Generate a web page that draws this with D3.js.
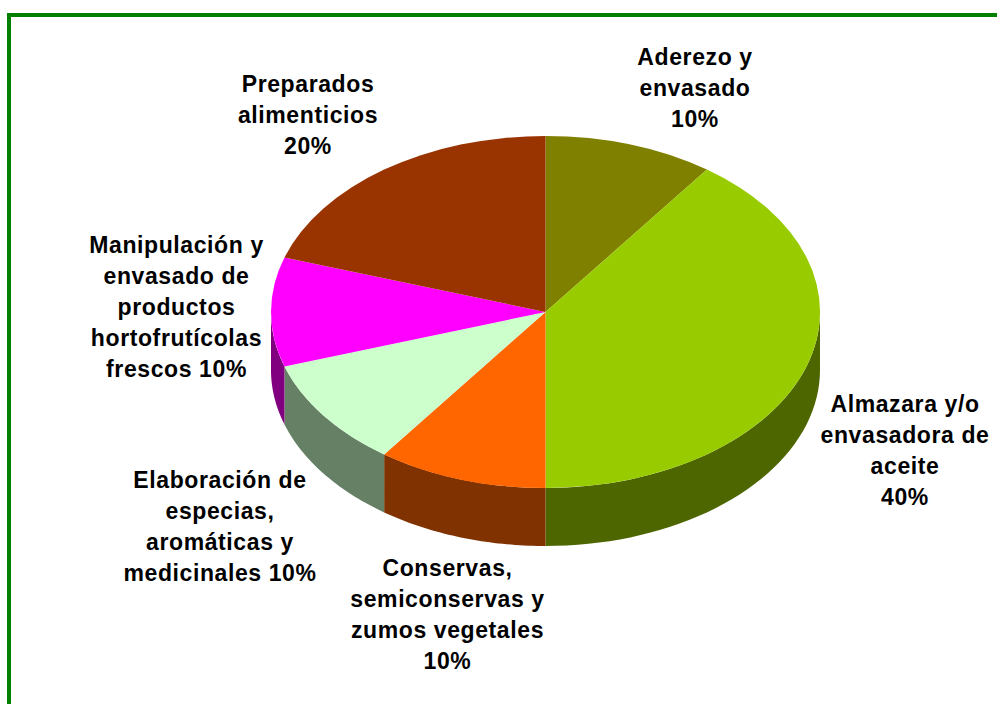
<!DOCTYPE html>
<html>
<head>
<meta charset="utf-8">
<script src="https://cdn.jsdelivr.net/npm/d3@7/dist/d3.min.js"></script>
<style>
html, body { margin: 0; padding: 0; background: #fff; overflow: hidden; }
svg { display: block; }
text { font-family: "Liberation Sans", Arial, sans-serif; font-weight: bold; font-size: 23px; letter-spacing: 0.6px; fill: #000; }
</style>
</head>
<body>
<div class="chart"></div>
<script>
var svgWidth = 997;
var svgHeight = 704;

// chart values, clockwise from 12 o'clock
var categories = ["Aderezo", "Almazara", "Conservas", "Elaboracion", "Manipulacion", "Preparados"];
var shares = [10, 40, 10, 10, 10, 20];
var topColors = ["#808000", "#99cc00", "#ff6600", "#ccffcc", "#ff00ff", "#993300"];
var sideColors = ["#4d4d00", "#4d6600", "#803300", "#668066", "#800080", "#4d1a00"];

var labelLines = [
    ["Aderezo y", "envasado", "10%"],
    ["Almazara y/o", "envasadora de", "aceite", "40%"],
    ["Conservas,", "semiconservas y", "zumos vegetales", "10%"],
    ["Elaboración de", "especias,", "aromáticas y", "medicinales 10%"],
    ["Manipulación y", "envasado de", "productos", "hortofrutícolas", "frescos 10%"],
    ["Preparados", "alimenticios", "20%"]
];
var labelX = [695, 905, 447.5, 220, 176.5, 308];
var labelY = [65, 412, 576, 488, 253, 92];
var lineHeight = 31;

var cx = 545.5, cy = 312, rx = 274.5, ry = 176, depth = 58;

var svg = d3.select(".chart")
    .append("svg")
    .attr("width", svgWidth)
    .attr("height", svgHeight);

// green frame, only top and left edges are in the picture
svg.append("rect").attr("x", 7).attr("y", 13).attr("width", svgWidth - 7).attr("height", 4).attr("fill", "#008000");
svg.append("rect").attr("x", 7).attr("y", 13).attr("width", 4).attr("height", svgHeight - 13).attr("fill", "#008000");

var pie = d3.pie().sort(null).value(function(d) { return d; });
var slices = pie(shares);

// unit circle angle to screen position
var xScale = d3.scaleLinear().domain([-1, 1]).range([cx - rx, cx + rx]);
var yScale = d3.scaleLinear().domain([-1, 1]).range([cy - ry, cy + ry]);
function px(a) { return xScale(Math.sin(a)); }
function py(a) { return yScale(-Math.cos(a)); }

// wall under the front part of each slice
function wallPath(d) {
    var a0 = Math.max(d.startAngle, Math.PI / 2);
    var a1 = Math.min(d.endAngle, Math.PI * 1.5);
    if (a1 <= a0) return null;
    var steps = d3.range(0, 41).map(function(i) { return a0 + (a1 - a0) * i / 40; });
    var line = d3.line();
    var upper = steps.map(function(a) { return [px(a), py(a)]; });
    var lower = steps.slice().reverse().map(function(a) { return [px(a), py(a) + depth]; });
    return line(upper.concat(lower)) + "Z";
}

svg.append("g")
    .selectAll("path")
    .data(slices)
    .enter()
    .append("path")
    .attr("d", wallPath)
    .attr("fill", function(d, i) { return sideColors[i]; });

var arc = d3.arc().innerRadius(0).outerRadius(1);
svg.append("g")
    .attr("transform", `translate(${cx}, ${cy}) scale(${rx}, ${ry})`)
    .selectAll("path")
    .data(slices)
    .enter()
    .append("path")
    .attr("d", arc)
    .attr("fill", function(d, i) { return topColors[i]; });

// labels
var labels = svg.append("g")
    .selectAll("text")
    .data(labelLines)
    .enter()
    .append("text")
    .attr("text-anchor", "middle")
    .attr("transform", function(d, i) { return `translate(${labelX[i]}, ${labelY[i]})`; });

labels.selectAll("tspan")
    .data(function(d) { return d; })
    .enter()
    .append("tspan")
    .attr("x", 0)
    .attr("y", function(d, i) { return i * lineHeight; })
    .text(function(d) { return d; });
</script>
</body>
</html>
